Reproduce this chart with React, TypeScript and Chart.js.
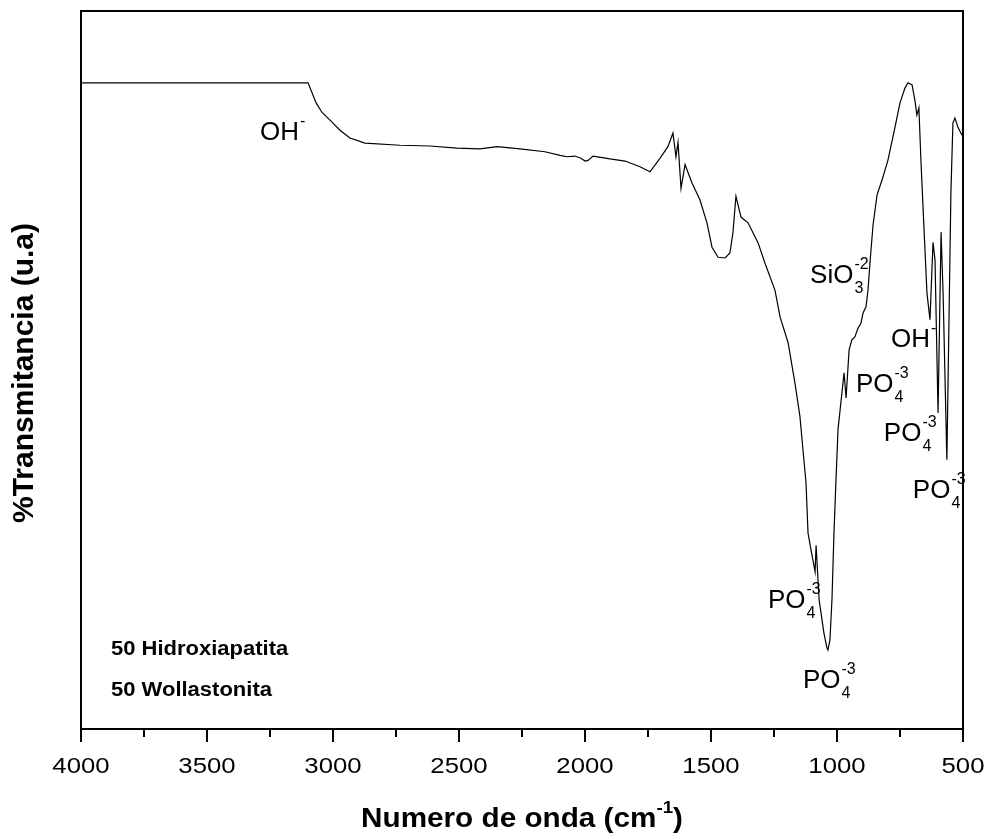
import React, { useEffect, useRef } from 'react';
import { Chart, registerables } from 'chart.js';

Chart.register(...registerables);

// FTIR spectrum: wavenumber (cm-1) and transmittance (arbitrary units)
const wavenumbers = [
  4000, 3500, 3107, 3099, 3067, 3044, 3012, 2972, 2933, 2873, 2734, 2615, 2508, 2417, 2349, 2258,
  2159, 2099, 2071, 2040, 2016, 2000, 1988, 1968, 1901, 1841, 1782, 1742, 1702, 1671, 1651, 1639,
  1631, 1619, 1603, 1575, 1544, 1516, 1496, 1472, 1444, 1425, 1413, 1401, 1381, 1353, 1313, 1286,
  1246, 1226, 1194, 1167, 1147, 1135, 1123, 1115, 1103, 1087, 1083, 1071, 1052, 1040, 1036, 1028,
  1020, 1012, 1004, 996, 972, 964, 952, 941, 929, 917, 905, 897, 885, 877, 869, 857,
  841, 821, 798, 770, 750, 730, 718, 702, 691, 683, 675, 667, 655, 643, 631, 619,
  611, 599, 587, 579, 564, 556, 548, 540, 532, 520, 504,
];
const transmittance = [
  90.0, 90.0, 90.0, 90.0, 87.2, 85.9, 84.8, 83.4, 82.3, 81.6, 81.3, 81.2, 80.9, 80.8, 81.1, 80.8,
  80.4, 79.9, 79.7, 79.8, 79.5, 79.1, 79.2, 79.8, 79.4, 79.1, 78.3, 77.6, 79.5, 81.1, 83.0, 79.7,
  81.7, 75.3, 78.6, 76.0, 73.7, 70.5, 67.1, 65.7, 65.6, 66.3, 69.1, 74.2, 71.3, 70.5, 67.7, 64.9,
  61.1, 57.4, 53.8, 48.2, 43.5, 38.9, 34.3, 27.3, 24.9, 21.9, 25.6, 18.0, 13.4, 11.3, 11.0, 12.4,
  18.0, 27.3, 34.7, 41.7, 49.6, 46.1, 52.8, 54.2, 54.6, 55.8, 56.5, 57.9, 58.8, 61.1, 65.0, 70.2,
  74.4, 76.5, 79.2, 83.8, 87.2, 89.3, 90.0, 89.7, 87.6, 85.5, 86.5, 79.2, 69.9, 60.7, 57.0, 67.8,
  65.3, 44.0, 69.2, 60.7, 37.5, 56.0, 74.7, 84.4, 85.1, 83.8, 82.7,
];

const majorTicks = [4000, 3500, 3000, 2500, 2000, 1500, 1000, 500];
const minorTicks = [3750, 3250, 2750, 2250, 1750, 1250, 750];

// Band assignments: main text, subscript, superscript, anchor (wavenumber, transmittance)
const bandText = ['OH', 'SiO', 'OH', 'PO', 'PO', 'PO', 'PO', 'PO'];
const bandSub = ['', '3', '', '4', '4', '4', '4', '4'];
const bandSup = ['-', '-2', '-', '-3', '-3', '-3', '-3', '-3'];
const bandWn = [3290, 1107, 786, 925, 814, 699, 1274, 1135];
const bandVal = [82.0, 62.1, 53.2, 46.9, 40.1, 32.2, 16.9, 5.7];

const sampleLines = ['50 Hidroxiapatita', '50 Wollastonita'];
const sampleWn = 3881;
const sampleVal = [10.3, 4.6];

const FONT = 'Arial, "Liberation Sans", Helvetica, sans-serif';

function stretchText(
  ctx: CanvasRenderingContext2D,
  text: string,
  x: number,
  y: number,
  sx: number,
  align: 'left' | 'center' | 'right' = 'left'
) {
  const w = ctx.measureText(text).width * sx;
  let left = x;
  if (align === 'center') left = x - w / 2;
  if (align === 'right') left = x - w;
  ctx.save();
  ctx.translate(left, y);
  ctx.scale(sx, 1);
  ctx.textAlign = 'left';
  ctx.fillText(text, 0, 0);
  ctx.restore();
  return w;
}

const decorPlugin = {
  id: 'spectrumDecor',
  afterDraw(chart: any) {
    const { ctx, chartArea } = chart;
    const xs = chart.scales.x;
    const ys = chart.scales.y;
    const { left, right, top, bottom } = chartArea;
    ctx.save();
    ctx.fillStyle = '#000';
    ctx.strokeStyle = '#000';
    ctx.textBaseline = 'alphabetic';

    // frame
    ctx.lineWidth = 2;
    ctx.strokeRect(left, top, right - left, bottom - top);

    // ticks
    majorTicks.forEach((v) => {
      const px = Math.round(xs.getPixelForValue(v));
      ctx.beginPath();
      ctx.moveTo(px, bottom);
      ctx.lineTo(px, bottom + 13);
      ctx.stroke();
    });
    minorTicks.forEach((v) => {
      const px = Math.round(xs.getPixelForValue(v));
      ctx.beginPath();
      ctx.moveTo(px, bottom);
      ctx.lineTo(px, bottom + 8);
      ctx.stroke();
    });

    // tick labels
    ctx.font = `22px ${FONT}`;
    majorTicks.forEach((v) => {
      const px = xs.getPixelForValue(v);
      stretchText(ctx, String(v), px, bottom + 44, 1.17, 'center');
    });

    // x title with superscript
    const sx = 1.1;
    const partA = 'Numero de onda (cm';
    const partB = ')';
    ctx.font = `bold 27px ${FONT}`;
    const wA = ctx.measureText(partA).width * sx;
    const wB = ctx.measureText(partB).width * sx;
    ctx.font = `bold 17px ${FONT}`;
    const wS = ctx.measureText('-1').width * sx;
    const total = wA + wS + wB;
    let cx = (left + right) / 2 - total / 2;
    const baseY = 827;
    ctx.font = `bold 27px ${FONT}`;
    stretchText(ctx, partA, cx, baseY, sx);
    cx += wA;
    ctx.font = `bold 17px ${FONT}`;
    stretchText(ctx, '-1', cx, baseY - 14, sx);
    cx += wS;
    ctx.font = `bold 27px ${FONT}`;
    stretchText(ctx, partB, cx, baseY, sx);

    // y title
    ctx.save();
    ctx.translate(33, (top + bottom) / 2 + 3);
    ctx.rotate(-Math.PI / 2);
    ctx.font = `bold 30px ${FONT}`;
    ctx.textAlign = 'center';
    ctx.fillText('%Transmitancia (u.a)', 0, 0);
    ctx.restore();

    // band assignments
    bandText.forEach((t, i) => {
      const px = xs.getPixelForValue(bandWn[i]);
      const py = ys.getPixelForValue(bandVal[i]);
      ctx.font = `26px ${FONT}`;
      const w = stretchText(ctx, t, px, py, 1.0);
      ctx.font = `16px ${FONT}`;
      if (bandSup[i]) stretchText(ctx, bandSup[i], px + w + 1, py - 14, 1.0);
      if (bandSub[i]) stretchText(ctx, bandSub[i], px + w + 1, py + 10, 1.0);
    });

    // sample composition
    ctx.font = `bold 20px ${FONT}`;
    sampleLines.forEach((t, i) => {
      stretchText(ctx, t, xs.getPixelForValue(sampleWn), ys.getPixelForValue(sampleVal[i]), 1.1);
    });

    ctx.restore();
  },
};

export default function App() {
  const canvasRef = useRef<HTMLCanvasElement | null>(null);

  useEffect(() => {
    document.body.style.margin = '0';
    const canvas = canvasRef.current;
    if (!canvas) return;
    const points = wavenumbers.map((w, i) => ({ x: w, y: transmittance[i] }));
    const chart = new Chart(canvas, {
      type: 'line',
      data: {
        datasets: [
          {
            data: points,
            borderColor: '#000',
            borderWidth: 1.2,
            pointRadius: 0,
            tension: 0,
            fill: false,
          },
        ],
      },
      options: {
        responsive: false,
        animation: false,
        parsing: false as any,
        layout: { padding: { top: 11, right: 26, left: 0, bottom: 0 } },
        plugins: { legend: { display: false }, tooltip: { enabled: false } },
        scales: {
          x: {
            type: 'linear',
            reverse: true,
            min: 500,
            max: 4000,
            ticks: { display: false },
            grid: { display: false },
            border: { display: false },
            afterFit: (s: any) => {
              s.height = 110;
            },
          },
          y: {
            type: 'linear',
            min: 0,
            max: 100,
            ticks: { display: false },
            grid: { display: false },
            border: { display: false },
            afterFit: (s: any) => {
              s.width = 81;
            },
          },
        },
      },
      plugins: [decorPlugin],
    });
    return () => chart.destroy();
  }, []);

  return (
    <div style={{ width: 989, height: 839, background: '#fff' }}>
      <canvas ref={canvasRef} width={989} height={839} style={{ display: 'block' }} />
    </div>
  );
}
